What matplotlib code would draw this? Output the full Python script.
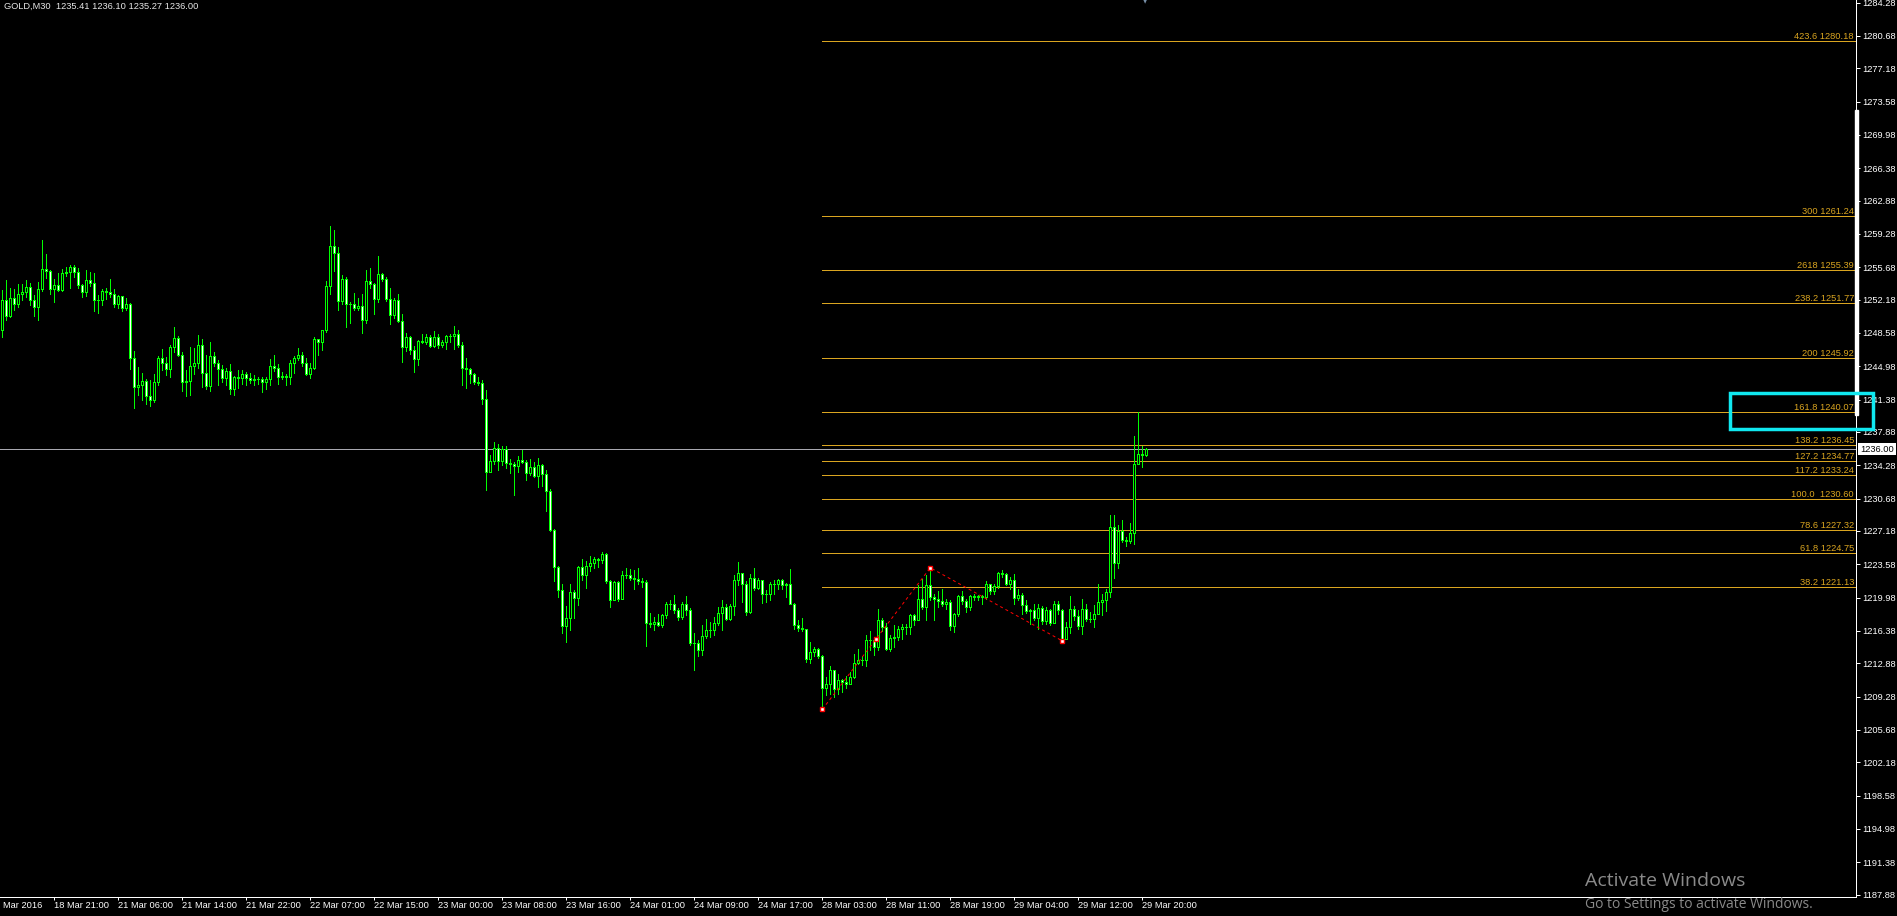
import numpy as np
import matplotlib
matplotlib.use('Agg')
import matplotlib.pyplot as plt
from matplotlib.patches import Rectangle
from matplotlib.collections import PatchCollection

plt.rcParams['font.family'] = ['Liberation Sans', 'DejaVu Sans']

# GOLD M30 candles (open of each bar = previous close)
first_open = 1248.95
close = [
    1252.13, 1250.43, 1252.31, 1251.76, 1252.74, 1253.06, 1253.60, 1252.13, 1251.40, 1253.28,
    1255.44, 1255.26, 1253.35, 1253.71, 1253.21, 1255.01, 1255.12, 1255.66, 1255.19, 1253.75,
    1253.03, 1254.25, 1253.93, 1252.13, 1252.16, 1253.10, 1252.99, 1252.81, 1251.73, 1252.56,
    1251.33, 1251.69, 1245.92, 1242.75, 1243.00, 1243.37, 1241.78, 1241.31, 1243.26, 1245.85,
    1245.28, 1244.73, 1247.04, 1248.01, 1246.18, 1243.29, 1243.40, 1244.99, 1245.31, 1247.26,
    1244.27, 1242.86, 1246.07, 1245.28, 1244.63, 1243.76, 1244.52, 1242.54, 1243.83, 1243.73,
    1244.19, 1243.76, 1243.54, 1243.62, 1243.58, 1243.29, 1243.65, 1244.99, 1244.81, 1243.83,
    1243.91, 1243.83, 1245.38, 1245.92, 1246.25, 1245.35, 1244.12, 1244.84, 1247.91, 1247.55,
    1248.88, 1253.64, 1257.97, 1257.24, 1252.05, 1254.40, 1251.66, 1251.76, 1251.30, 1251.48,
    1250.03, 1254.18, 1253.86, 1252.27, 1254.90, 1254.36, 1252.23, 1250.47, 1252.13, 1249.82,
    1247.01, 1248.09, 1246.79, 1245.78, 1247.69, 1247.62, 1248.09, 1247.19, 1248.09, 1247.33,
    1247.58, 1248.23, 1248.30, 1248.52, 1247.33, 1244.84, 1244.73, 1244.09, 1243.29, 1243.15,
    1241.45, 1233.56, 1234.71, 1236.19, 1234.75, 1236.01, 1234.53, 1234.39, 1234.24, 1234.89,
    1234.67, 1233.48, 1234.13, 1233.12, 1234.28, 1233.30, 1231.50, 1227.25, 1223.28, 1220.83,
    1216.90, 1217.73, 1220.54, 1219.97, 1223.25, 1222.42, 1223.43, 1223.75, 1224.11, 1224.08,
    1224.72, 1221.77, 1219.75, 1221.62, 1219.82, 1222.45, 1222.42, 1222.13, 1221.98, 1221.73,
    1221.66, 1217.23, 1217.08, 1217.37, 1217.05, 1218.13, 1219.24, 1219.24, 1218.67, 1217.87,
    1219.32, 1218.60, 1215.06, 1215.03, 1214.34, 1215.86, 1216.43, 1216.43, 1217.26, 1218.34,
    1218.96, 1217.69, 1219.03, 1221.84, 1222.63, 1221.48, 1218.42, 1222.13, 1221.05, 1221.84,
    1220.40, 1220.36, 1221.41, 1221.48, 1221.88, 1221.30, 1221.41, 1219.32, 1216.97, 1216.72,
    1216.58, 1213.37, 1214.09, 1214.45, 1213.62, 1210.23, 1210.66, 1212.11, 1210.12, 1211.03,
    1210.85, 1210.66, 1211.38, 1212.90, 1213.19, 1213.26, 1215.42, 1215.42, 1214.63, 1217.51,
    1216.79, 1214.45, 1215.64, 1215.71, 1216.61, 1216.79, 1216.79, 1218.05, 1217.51, 1219.79,
    1218.96, 1221.37, 1220.04, 1219.86, 1219.61, 1219.32, 1219.50, 1216.90, 1218.24, 1220.11,
    1219.61, 1218.96, 1220.11, 1220.04, 1220.11, 1220.04, 1221.48, 1220.69, 1221.19, 1222.63,
    1222.53, 1221.41, 1221.84, 1219.97, 1220.22, 1219.21, 1218.52, 1218.60, 1217.80, 1218.85,
    1217.44, 1218.67, 1217.23, 1219.24, 1218.67, 1215.53, 1216.79, 1218.78, 1217.98, 1216.90,
    1218.78, 1217.69, 1217.66, 1218.24, 1219.50, 1219.75, 1220.54, 1227.61, 1223.71, 1227.14,
    1226.24, 1226.09, 1226.96, 1234.46, 1235.54, 1235.41, 1236.00,
]
high = [
    1253.21, 1254.29, 1253.39, 1253.28, 1253.86, 1253.86, 1254.29, 1253.93, 1252.67, 1254.07,
    1258.61, 1257.10, 1255.37, 1254.40, 1255.01, 1255.44, 1255.73, 1255.91, 1255.91, 1255.55,
    1253.82, 1255.37, 1255.15, 1255.01, 1252.67, 1253.28, 1253.49, 1254.40, 1253.28, 1252.67,
    1252.56, 1252.31, 1251.84, 1246.65, 1244.92, 1244.27, 1243.62, 1243.47, 1244.12, 1246.11,
    1246.86, 1246.00, 1247.26, 1249.24, 1248.23, 1246.54, 1244.55, 1247.08, 1246.93, 1248.34,
    1247.94, 1246.18, 1247.62, 1246.54, 1245.64, 1245.10, 1244.81, 1245.20, 1243.91, 1244.55,
    1244.55, 1244.37, 1244.30, 1244.01, 1243.83, 1243.83, 1243.83, 1245.74, 1246.18, 1245.17,
    1244.37, 1244.19, 1245.64, 1246.07, 1246.90, 1246.54, 1245.85, 1245.38, 1248.09, 1247.98,
    1248.95, 1254.18, 1260.13, 1259.70, 1257.89, 1254.83, 1254.65, 1251.95, 1252.85, 1252.41,
    1252.77, 1255.37, 1255.55, 1254.00, 1256.88, 1255.08, 1254.65, 1253.49, 1252.31, 1252.77,
    1250.68, 1248.59, 1248.23, 1247.15, 1247.87, 1248.52, 1248.52, 1248.34, 1248.77, 1248.52,
    1247.80, 1248.34, 1248.45, 1249.31, 1248.88, 1247.55, 1245.85, 1244.81, 1244.30, 1243.83,
    1243.47, 1242.39, 1235.36, 1236.76, 1236.55, 1236.33, 1236.33, 1235.00, 1234.64, 1235.25,
    1235.97, 1234.82, 1235.00, 1234.60, 1235.03, 1234.46, 1233.74, 1231.75, 1227.43, 1223.39,
    1221.48, 1219.03, 1221.41, 1220.83, 1223.36, 1224.11, 1223.90, 1224.44, 1224.36, 1224.29,
    1224.87, 1224.80, 1221.91, 1221.73, 1221.73, 1222.81, 1223.21, 1223.10, 1222.99, 1223.21,
    1222.13, 1221.84, 1218.34, 1217.87, 1218.16, 1218.24, 1219.50, 1219.68, 1220.22, 1218.85,
    1219.46, 1220.11, 1218.85, 1216.14, 1215.42, 1216.97, 1217.62, 1217.33, 1217.87, 1218.96,
    1219.68, 1219.24, 1219.24, 1222.38, 1223.82, 1222.20, 1221.73, 1222.49, 1223.21, 1222.13,
    1221.91, 1220.83, 1221.66, 1221.84, 1221.98, 1221.98, 1221.55, 1223.10, 1219.39, 1217.51,
    1217.80, 1216.32, 1215.17, 1214.63, 1214.52, 1213.73, 1211.38, 1212.58, 1212.18, 1211.75,
    1211.21, 1211.46, 1211.93, 1213.84, 1214.45, 1213.62, 1215.89, 1216.36, 1215.71, 1218.70,
    1217.80, 1217.23, 1215.89, 1216.97, 1216.86, 1217.15, 1217.15, 1218.24, 1218.24, 1221.37,
    1221.95, 1222.45, 1223.20, 1220.40, 1220.69, 1220.87, 1219.86, 1219.68, 1218.34, 1220.22,
    1220.65, 1219.86, 1220.22, 1220.33, 1220.29, 1220.29, 1221.73, 1221.48, 1221.48, 1222.74,
    1222.92, 1222.67, 1222.20, 1222.49, 1220.87, 1220.47, 1219.68, 1218.78, 1219.24, 1219.24,
    1219.03, 1218.96, 1218.78, 1219.57, 1219.57, 1218.74, 1217.33, 1220.11, 1219.03, 1218.60,
    1219.86, 1219.24, 1218.42, 1219.14, 1221.48, 1220.40, 1220.94, 1228.94, 1228.87, 1227.79,
    1228.40, 1226.53, 1228.08, 1237.41, 1240.05, 1236.33, 1236.10,
]
low = [
    1248.16, 1249.96, 1250.35, 1251.04, 1251.40, 1252.13, 1252.49, 1251.58, 1250.39, 1249.96,
    1253.13, 1254.47, 1252.77, 1251.95, 1253.13, 1253.13, 1254.72, 1253.46, 1254.65, 1253.39,
    1252.49, 1252.56, 1253.64, 1250.97, 1250.75, 1251.58, 1252.20, 1252.49, 1251.40, 1251.30,
    1250.97, 1251.04, 1244.73, 1240.48, 1241.85, 1241.31, 1240.88, 1240.70, 1241.13, 1242.93,
    1244.55, 1244.01, 1243.83, 1246.54, 1246.07, 1242.28, 1241.78, 1241.85, 1244.19, 1244.81,
    1242.75, 1242.50, 1242.32, 1245.02, 1243.00, 1243.29, 1242.93, 1241.96, 1241.85, 1242.68,
    1243.11, 1242.93, 1243.18, 1243.00, 1243.04, 1242.21, 1242.57, 1242.93, 1244.48, 1243.11,
    1243.58, 1242.93, 1243.04, 1244.27, 1245.64, 1245.02, 1244.01, 1243.73, 1244.73, 1246.18,
    1246.72, 1248.66, 1252.77, 1255.26, 1251.04, 1251.69, 1249.24, 1249.67, 1251.04, 1251.04,
    1248.59, 1249.67, 1253.39, 1250.61, 1251.95, 1254.18, 1252.02, 1249.53, 1250.21, 1249.75,
    1245.46, 1246.65, 1246.29, 1244.37, 1245.10, 1247.44, 1247.37, 1247.01, 1247.08, 1246.97,
    1247.08, 1246.83, 1247.62, 1246.86, 1247.08, 1242.93, 1242.64, 1243.22, 1243.04, 1242.93,
    1240.88, 1231.58, 1233.50, 1234.46, 1233.74, 1234.28, 1234.03, 1233.45, 1231.03, 1233.52,
    1234.57, 1232.73, 1233.20, 1233.02, 1231.93, 1232.01, 1229.34, 1227.18, 1221.73, 1220.04,
    1216.14, 1215.17, 1216.43, 1217.77, 1219.14, 1221.84, 1221.01, 1222.81, 1223.17, 1223.28,
    1223.71, 1221.55, 1218.96, 1219.68, 1219.61, 1219.86, 1222.13, 1221.84, 1220.87, 1221.48,
    1221.12, 1214.70, 1216.79, 1216.43, 1216.94, 1216.79, 1217.77, 1218.78, 1218.34, 1217.51,
    1217.69, 1218.05, 1214.81, 1212.11, 1213.62, 1213.73, 1215.64, 1215.71, 1215.89, 1216.97,
    1216.50, 1217.59, 1217.51, 1218.05, 1221.30, 1219.50, 1218.05, 1218.31, 1220.83, 1220.94,
    1219.39, 1219.50, 1219.75, 1220.40, 1220.94, 1220.94, 1220.04, 1219.24, 1216.61, 1216.36,
    1216.36, 1213.01, 1212.90, 1213.62, 1213.48, 1207.89, 1209.40, 1209.58, 1209.22, 1209.58,
    1209.76, 1210.23, 1210.59, 1211.31, 1212.76, 1212.65, 1212.58, 1214.34, 1213.73, 1214.34,
    1216.36, 1214.27, 1214.20, 1214.63, 1215.35, 1215.53, 1216.07, 1216.00, 1216.97, 1217.51,
    1218.70, 1217.51, 1219.68, 1217.51, 1218.96, 1219.03, 1218.78, 1216.50, 1216.25, 1217.95,
    1219.24, 1218.42, 1218.60, 1219.68, 1219.68, 1219.32, 1219.86, 1220.40, 1220.40, 1221.05,
    1222.20, 1221.30, 1220.94, 1219.24, 1219.68, 1218.24, 1218.31, 1217.15, 1217.51, 1216.61,
    1217.15, 1217.15, 1216.97, 1217.51, 1218.24, 1215.29, 1215.53, 1216.14, 1217.51, 1216.61,
    1216.00, 1217.44, 1217.33, 1216.79, 1218.16, 1218.05, 1218.52, 1220.04, 1222.09, 1223.17,
    1225.99, 1225.55, 1225.91, 1225.81, 1234.46, 1234.10, 1235.27,
]

first_date_label = "Mar 2016"
date_labels = ["18 Mar 21:00", "21 Mar 06:00", "21 Mar 14:00", "21 Mar 22:00",
               "22 Mar 07:00", "22 Mar 15:00", "23 Mar 00:00", "23 Mar 08:00",
               "23 Mar 16:00", "24 Mar 01:00", "24 Mar 09:00", "24 Mar 17:00",
               "28 Mar 03:00", "28 Mar 11:00", "28 Mar 19:00", "29 Mar 04:00",
               "29 Mar 12:00", "29 Mar 20:00"]
date_bars = [13 + 16 * k for k in range(len(date_labels))]

price_ticks = [1284.28, 1280.68, 1277.18, 1273.58, 1269.98, 1266.38, 1262.88,
               1259.28, 1255.68, 1252.18, 1248.58, 1244.98, 1241.38, 1237.88,
               1234.28, 1230.68, 1227.18, 1223.58, 1219.98, 1216.38, 1212.88,
               1209.28, 1205.68, 1202.18, 1198.58, 1194.98, 1191.38, 1187.88]

fib_ratios = ["423.6", "300", "2618", "238.2", "200", "161.8", "138.2",
              "127.2", "117.2", "100.0 ", "78.6", "61.8", "38.2"]
fib_prices = [1280.18, 1261.24, 1255.39, 1251.77, 1245.92, 1240.07, 1236.45,
              1234.77, 1233.24, 1230.60, 1227.32, 1224.75, 1221.13]

# expansion anchors A, B, C
wave_bars = [205, 232, 265]
wave_prices = [1207.89, 1223.20, 1215.29]

last_price = 1236.00
header = "GOLD,M30  1235.41 1236.10 1235.27 1236.00"

W, H = 1897, 916
GREEN = '#00FF00'
GOLD = '#DAA520'
PX = 0.72  # one pixel in points

close = np.array(close)
high = np.array(high)
low = np.array(low)
opn = np.concatenate([[first_open], close[:-1]])
high = np.maximum(high, np.maximum(opn, close))
low = np.minimum(low, np.minimum(opn, close))
x = np.arange(len(close))

fig = plt.figure(figsize=(W / 100, H / 100), dpi=100, facecolor='black')
ax = fig.add_axes([0, 19 / H, 1856 / W, 897 / H])
ax.set_facecolor('black')
ax.set_xlim(-2.33 / 4, (1856 - 2.33) / 4)
ax.set_ylim(1187.61, 1284.57)

# candles
ax.vlines(x, low, high, colors=GREEN, linewidth=PX, antialiased=False, zorder=3)
bodies = [Rectangle((i - 0.25, min(o, c)), 0.5, abs(c - o)) for i, o, c in zip(x, opn, close)]
fills = ['black' if c > o else 'white' for o, c in zip(opn, close)]
ax.add_collection(PatchCollection(bodies, facecolors=fills, edgecolors=GREEN,
                                  linewidths=PX, antialiased=False, zorder=4))

# fibonacci expansion levels
x_right = ax.get_xlim()[1]
ax.hlines(fib_prices, wave_bars[0], x_right, colors=GOLD, linewidth=PX,
          antialiased=False, zorder=2)
for r, p in zip(fib_ratios, fib_prices):
    ax.text(1 - 2 / 1856, p, f"{r} {p:.2f}", transform=ax.get_yaxis_transform(),
            ha='right', va='bottom', fontsize=6.7, color=GOLD, zorder=5)

# zigzag of the expansion
ax.plot(wave_bars, wave_prices, color='red', lw=PX, ls=(0, (3, 3)), zorder=5)
mid_x = (wave_bars[0] + wave_bars[1]) / 2
mid_y = (wave_prices[0] + wave_prices[1]) / 2
ax.plot(wave_bars + [mid_x], wave_prices + [mid_y], ls='none', marker='s', ms=3.5,
        mfc='white', mec='red', mew=1, zorder=6)

# bid line
ax.axhline(last_price, color='#A8A8B0', lw=PX, antialiased=False, zorder=2)

# axes styling
for s in ['top', 'left']:
    ax.spines[s].set_visible(False)
for s in ['right', 'bottom']:
    ax.spines[s].set_color('white')
    ax.spines[s].set_linewidth(PX)
ax.yaxis.tick_right()
ax.set_yticks(price_ticks)
ax.set_yticklabels([f"{v:.2f}" for v in price_ticks])
ax.set_xticks(date_bars)
ax.set_xticklabels(date_labels, ha='left')
ax.tick_params(axis='y', colors='white', length=3, width=PX, pad=1.8, labelsize=6.7)
ax.tick_params(axis='x', colors='white', length=2.2, width=PX, pad=0.5, labelsize=6.7)

fig.text(3 / W, 1 - 906 / H, first_date_label, ha='left', va='center',
         fontsize=6.7, color='white')

# header
fig.text(4 / W, 1 - 6 / H, header, ha='left', va='center', fontsize=6.7, color='#E6E6E6')

# current price tag
fig.text(1860 / W, 1 - 449 / H, f"{last_price:.2f}", ha='left', va='center',
         fontsize=6.7, color='black',
         bbox=dict(boxstyle='square,pad=0.2', fc='white', ec='none'))

# white bar on the price scale and the cyan highlight box
fig.patches.append(Rectangle((1855 / W, 1 - 415 / H), 3 / W, 305 / H,
                             transform=fig.transFigure, color='white', zorder=5))
fig.patches.append(Rectangle((1730 / W, 1 - 429 / H), 143 / W, 36 / H,
                             transform=fig.transFigure, fill=False,
                             edgecolor='#10E8F0', lw=2.5, zorder=10))

# chart shift marker
fig.text(1145 / W, 1 - 2 / H, "\u25BC", ha='center', va='center', fontsize=4,
         color='#7890A8', family='DejaVu Sans')

# windows watermark
fig.text(1585 / W, 1 - 881 / H, "Activate Windows", ha='left', va='center',
         fontsize=14, color='#8A8A8A', family=['Open Sans', 'DejaVu Sans'])
fig.text(1585 / W, 1 - 904 / H, "Go to Settings to activate Windows.", ha='left',
         va='center', fontsize=10, color='#8A8A8A', family=['Open Sans', 'DejaVu Sans'])

fig.savefig('out.png', dpi=100, facecolor='black')
